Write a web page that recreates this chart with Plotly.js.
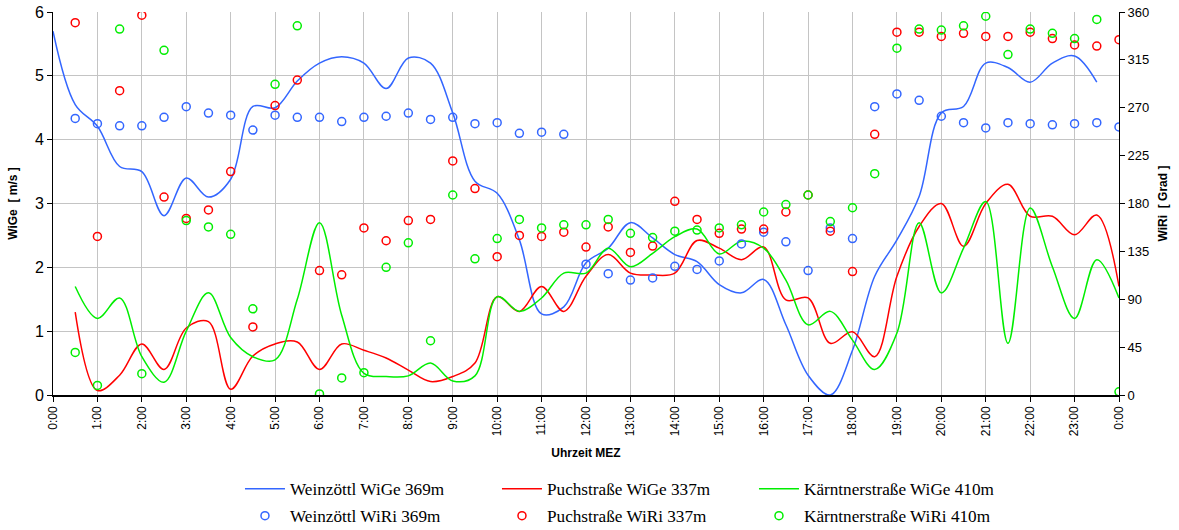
<!DOCTYPE html>
<html>
<head>
<meta charset="utf-8">
<script src="https://cdn.plot.ly/plotly-3.0.1.min.js"></script>
<style>
  body { margin: 0; background: #fff; }
  #plotly-div { width: 1179px; height: 530px; }
</style>
</head>
<body>
<div id="plotly-div"></div>
<script>
// half-hourly readings, 0:00 .. 24:00
var times = ['0:00','0:30','1:00','1:30','2:00','2:30','3:00','3:30','4:00','4:30',
  '5:00','5:30','6:00','6:30','7:00','7:30','8:00','8:30','9:00','9:30',
  '10:00','10:30','11:00','11:30','12:00','12:30','13:00','13:30','14:00','14:30',
  '15:00','15:30','16:00','16:30','17:00','17:30','18:00','18:30','19:00','19:30',
  '20:00','20:30','21:00','21:30','22:00','22:30','23:00','23:30','24:00'];

// wind speed [m/s]
var weinWiGe = [5.7, 4.55, 4.21, 3.58, 3.5, 2.81, 3.4, 3.1, 3.38, 4.52,
  4.5, 4.92, 5.2, 5.3, 5.2, 4.8, 5.28, 5.2, 4.42, 3.35,
  3.16, 2.43, 1.27, 1.38, 2.07, 2.3, 2.7, 2.46, 2.2, 2.09,
  1.73, 1.6, 1.81, 1.1, 0.31, 0.0, 0.7, 1.86, 2.43, 3.11,
  4.42, 4.52, 5.2, 5.13, 4.9, 5.2, 5.31, 4.9, null];
var puchWiGe = [null, 1.3, 0.07, 0.31, 0.8, 0.4, 1.05, 1.15, 0.09, 0.61,
  0.8, 0.83, 0.4, 0.8, 0.7, 0.58, 0.39, 0.21, 0.29, 0.5,
  1.54, 1.31, 1.7, 1.31, 1.86, 2.2, 1.91, 1.88, 1.91, 2.42,
  2.3, 2.12, 2.32, 1.49, 1.52, 0.81, 0.99, 0.6, 1.86, 2.64,
  3.0, 2.33, 3.0, 3.3, 2.8, 2.8, 2.51, 2.82, 1.7];
var kaernWiGe = [null, 1.7, 1.2, 1.52, 0.6, 0.2, 1.0, 1.6, 0.9, 0.6,
  0.55, 1.5, 2.7, 1.25, 0.34, 0.29, 0.3, 0.5, 0.22, 0.3,
  1.54, 1.31, 1.52, 1.91, 1.91, 2.3, 2.01, 2.22, 2.48, 2.6,
  2.21, 2.41, 2.3, 1.8, 1.1, 1.31, 0.86, 0.4, 0.97, 2.7,
  1.6, 2.3, 3.03, 0.81, 2.93, 2.01, 1.2, 2.12, 1.52];

// wind direction [Grad]
var weinWiRi = [null, 260, 255, 253, 253, 261, 271, 265, 263, 249,
  263, 261, 261, 257, 261, 262, 265, 259, 261, 255,
  256, 246, 247, 245, 123, 114, 108, 110, 121, 118,
  126, 142, 153, 144, 117, 157, 147, 271, 283, 277,
  262, 256, 251, 256, 255, 254, 255, 256, 252];
var puchWiRi = [null, 350, 149, 286, 357, 186, 166, 174, 210, 64,
  272, 296, 117, 113, 157, 145, 164, 165, 220, 194,
  130, 150, 149, 153, 139, 158, 134, 140, 182, 165,
  152, 156, 156, 172, 188, 154, 116, 245, 341, 341,
  337, 340, 337, 337, 341, 335, 329, 328, 334];
var kaernWiRi = [null, 40, 9, 344, 20, 324, 164, 158, 151, 81,
  292, 347, 1, 16, 21, 120, 143, 51, 188, 128,
  147, 165, 157, 160, 160, 165, 152, 148, 154, 155,
  157, 160, 172, 179, 188, 163, 176, 208, 326, 344,
  343, 347, 356, 320, 344, 340, 335, 353, 3];

var hourTicks = ['0:00','1:00','2:00','3:00','4:00','5:00','6:00','7:00','8:00','9:00',
  '10:00','11:00','12:00','13:00','14:00','15:00','16:00','17:00','18:00','19:00',
  '20:00','21:00','22:00','23:00','0:00'];

function toDate(t) {
    var p = t.split(':');
    var h = +p[0];
    if (h >= 24) return '2000-01-02 00:' + p[1];
    return '2000-01-01 ' + (h < 10 ? '0' + h : h) + ':' + p[1];
}
var x = times.map(toDate);

var blue = '#3366ff', red = '#ff0000', green = '#00ee00';

function lineTrace(y, name, color) {
    return {
        x: x, y: y, name: name, type: 'scatter', mode: 'lines',
        line: { color: color, width: 1.5, shape: 'spline', smoothing: 1 },
        legend: 'legend', yaxis: 'y'
    };
}
function dotTrace(y, name, color) {
    return {
        x: x, y: y, name: name, type: 'scatter', mode: 'markers',
        marker: { symbol: 'circle-open', size: 8, color: color, line: { width: 1.5, color: color } },
        legend: 'legend2', yaxis: 'y2'
    };
}

var data = [
    dotTrace(weinWiRi, 'Weinzöttl WiRi 369m', blue),
    dotTrace(puchWiRi, 'Puchstraße WiRi 337m', red),
    dotTrace(kaernWiRi, 'Kärntnerstraße WiRi 410m', green),
    lineTrace(weinWiGe, 'Weinzöttl WiGe 369m', blue),
    lineTrace(puchWiGe, 'Puchstraße WiGe 337m', red),
    lineTrace(kaernWiGe, 'Kärntnerstraße WiGe 410m', green)
];

var sans = 'Liberation Sans, Arial, sans-serif';
var serif = 'Liberation Serif, Times New Roman, serif';

var legendBase = {
    orientation: 'h', xref: 'paper', yref: 'paper', x: 0.1754, xanchor: 'left',
    yanchor: 'middle', entrywidth: 202, entrywidthmode: 'pixels',
    itemwidth: 40, traceorder: 'normal',
    font: { family: serif, size: 17.2, color: '#000' },
    bgcolor: 'rgba(0,0,0,0)'
};

var layout = {
    width: 1179, height: 530,
    margin: { l: 53, r: 60, t: 12, b: 135, autoexpand: false },
    paper_bgcolor: '#fff', plot_bgcolor: '#fff',
    font: { family: sans, color: '#000' },
    xaxis: {
        type: 'date',
        range: ['2000-01-01 00:00', '2000-01-02 00:00'],
        tickvals: hourTicks.map(function (t, i) { return toDate(i + ':00'); }),
        ticktext: hourTicks,
        tickangle: -90,
        tickfont: { size: 12 },
        showgrid: true, gridcolor: '#c4c4c4', gridwidth: 1,
        showline: true, linecolor: '#000', linewidth: 1.5,
        ticks: 'outside', ticklen: 5, tickcolor: '#000',
        zeroline: false, automargin: false,
        title: { text: '<b>Uhrzeit MEZ</b>', font: { size: 12 }, standoff: 13 }
    },
    yaxis: {
        range: [0, 6], dtick: 1,
        tickfont: { size: 16 },
        showgrid: true, gridcolor: '#c4c4c4',
        showline: true, linecolor: '#000', linewidth: 1,
        ticks: 'outside', ticklen: 5, tickcolor: '#000',
        zeroline: false, automargin: false,
        title: { text: '<b>WiGe \u00a0[ m/s ]</b>', font: { size: 12 }, standoff: 14 }
    },
    yaxis2: {
        range: [0, 360], dtick: 45,
        overlaying: 'y', side: 'right',
        tickfont: { size: 13 },
        showgrid: false,
        showline: true, linecolor: '#000', linewidth: 1,
        ticks: 'outside', ticklen: 5, tickcolor: '#000',
        zeroline: false, automargin: false,
        title: { text: '<b>WiRi \u00a0[ Grad ]</b>', font: { size: 12 }, standoff: 10 }
    },
    legend: Object.assign({}, legendBase, { y: -0.2454 }),
    legend2: Object.assign({}, legendBase, { y: -0.316 }),
    showlegend: true
};

Plotly.newPlot('plotly-div', data, layout, { staticPlot: true });
</script>
</body>
</html>
